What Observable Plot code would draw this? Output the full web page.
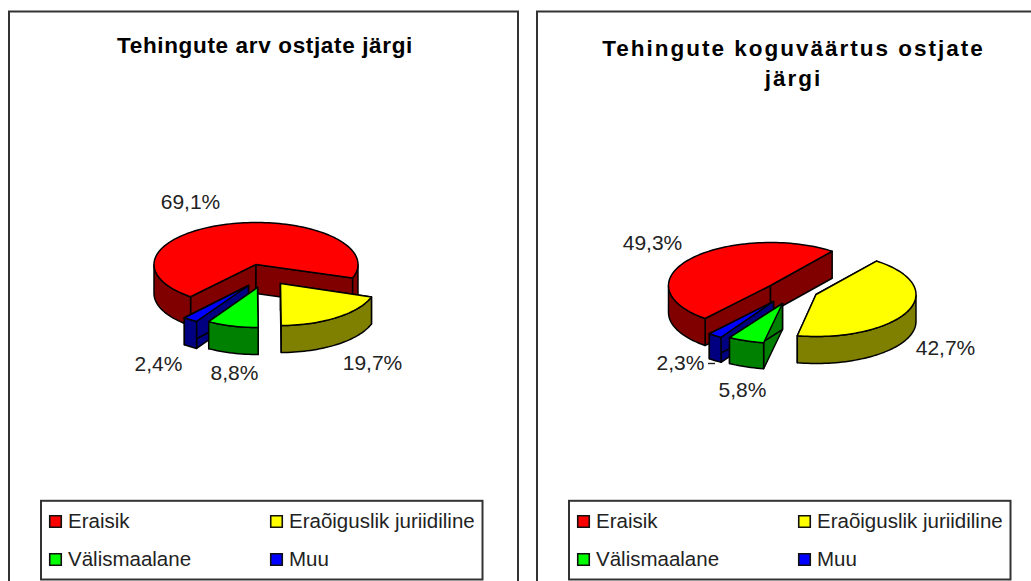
<!DOCTYPE html>
<html><head><meta charset="utf-8">
<script src="https://cdn.jsdelivr.net/npm/d3@7"></script>
<script src="https://cdn.jsdelivr.net/npm/@observablehq/plot@0.6"></script>
<style>html,body{margin:0;padding:0;background:#fff}svg{display:block}</style>
</head><body><div id="chart"></div>
<script>
const categories = ["Eraisik", "Eraõiguslik juriidiline", "Välismaalane", "Muu"];
const countValues = [69.1, 19.7, 8.8, 2.4];
const worthValues = [49.3, 42.7, 5.8, 2.3];
const countLabels = ["69,1%", "19,7%", "8,8%", "2,4%"];
const worthLabels = ["49,3%", "42,7%", "5,8%", "2,3%"];
const countTitle = ["Tehingute arv ostjate järgi"];
const worthTitle = ["Tehingute koguväärtus ostjate", "järgi"];

const topColors = ["#ff0000", "#ffff00", "#00ff00", "#0000ff"];
const sideColors = ["#800000", "#808000", "#008000", "#000080"];

const W = 1031, H = 581;
const panels = [
  {values: countValues, labels: countLabels, title: countTitle, frame: [9, 518], legendX: 41, titleX: 264.5,
   titleY: [45], titleSpacing: 0.65, start: 219.9, depth: [29, 27, 27, 27],
   apex: [[255.5, 264], [280, 283], [257, 287], [248, 285]], rx: [102, 96, 94, 100], ry: [42, 42, 40, 42],
   labelAt: [[190, 202], [372, 363], [234, 373], [158, 364]]},
  {values: worthValues, labels: worthLabels, title: worthTitle, frame: [537, 1060], legendX: 569, titleX: 793,
   titleY: [48, 78], titleSpacing: 2, start: 219.9, depth: [27, 27, 26, 25],
   apex: [[770, 285], [815.5, 294], [782, 303], [773, 301]], rx: [102, 100, 101, 100], ry: [43, 42, 40, 42],
   labelAt: [[652, 243], [945, 348], [742, 390], [680, 363]]}
];

const polys = [];
const rad = Math.PI / 180;
function addPoly(id, color, pts) {
  pts.forEach(([x, y]) => polys.push({id, color, x, y}));
  polys.push({id, color, x: pts[0][0], y: pts[0][1]});
}
panels.forEach((p, pi) => {
  const arcs = d3.pie().sort(null).startAngle(p.start * rad).endAngle(p.start * rad + 2 * Math.PI)(p.values);
  const drawOrder = [0, 3, 1, 2];
  drawOrder.forEach(i => {
    const [cx, cy] = p.apex[i], rx = p.rx[i], ry = p.ry[i], d = p.depth[i];
    const pt = a => [cx + rx * Math.sin(a), cy - ry * Math.cos(a)];
    const a0 = arcs[i].startAngle, a1 = arcs[i].endAngle;
    const n = Math.ceil((a1 - a0) / (2 * rad));
    const rim = d3.range(n + 1).map(k => pt(a0 + (a1 - a0) * k / n));
    const down = ([x, y]) => [x, y + d];
    const s = rim[0], e = rim[n];
    addPoly(`${pi}-${i}-cutA`, sideColors[i], [[cx, cy], s, down(s), [cx, cy + d]]);
    addPoly(`${pi}-${i}-cutB`, sideColors[i], [[cx, cy], e, down(e), [cx, cy + d]]);
    const norm = a => ((a % (2 * Math.PI)) + 2 * Math.PI) % (2 * Math.PI);
    let run = [];
    const runs = [];
    rim.forEach((q, k) => {
      const a = norm(a0 + (a1 - a0) * k / n);
      if (a >= 90 * rad && a <= 270 * rad) run.push(q);
      else { if (run.length) runs.push(run); run = []; }
    });
    if (run.length) runs.push(run);
    runs.forEach((r, j) => {
      if (r.length > 1) addPoly(`${pi}-${i}-wall${j}`, sideColors[i], [...r, ...r.slice().reverse().map(down)]);
    });
    addPoly(`${pi}-${i}-top`, topColors[i], [[cx, cy], ...rim]);
  });
});

const labelRows = panels.flatMap(p => p.labels.map((text, i) => ({text, x: p.labelAt[i][0], y: p.labelAt[i][1]})));
const titleRows = panels.flatMap(p => p.title.map((text, i) => ({text, spacing: p.titleSpacing, x: p.titleX, y: p.titleY[i]})));
const swatchOffsets = [[14, 0], [235, 0], [14, 1], [235, 1]];
const legendRows = panels.flatMap(p => categories.map((text, i) => ({
  text, color: topColors[i],
  x: p.legendX + swatchOffsets[i][0], y: 521 + swatchOffsets[i][1] * 38
})));
const legendBoxes = panels.map(p => ({x1: p.legendX, x2: p.legendX + 441.5, y1: 500.8, y2: 579.5}));
const frames = panels.map(p => ({x1: p.frame[0], x2: p.frame[1], y1: 11.5, y2: 600}));
const leader = [{x1: 708, x2: 715, y: 363}];

const plot = Plot.plot({
  width: W, height: H, margin: 0,
  x: {domain: [0, W], range: [0, W], axis: null},
  y: {domain: [0, H], range: [0, H], axis: null},
  color: {type: "identity"},
  style: {background: "#fff"},
  marks: [
    Plot.rect(frames, {x1: "x1", x2: "x2", y1: "y1", y2: "y2", fill: "#fff", stroke: "#333", strokeWidth: 2}),
    Plot.rect(legendBoxes, {x1: "x1", x2: "x2", y1: "y1", y2: "y2", fill: "#fff", stroke: "#333", strokeWidth: 2}),
    Plot.line(polys, {x: "x", y: "y", z: "id", fill: "color", stroke: "#000", strokeWidth: 1.5, strokeLinejoin: "round", curve: "linear"}),
    Plot.ruleY(leader, {x1: "x1", x2: "x2", y: "y", stroke: "#222", strokeWidth: 1.4}),
    Plot.text(titleRows, {x: "x", y: "y", text: "text", fontFamily: "Liberation Sans", fontWeight: "bold", fontSize: 22.5, fill: "#000"}),
    Plot.text(labelRows, {x: "x", y: "y", text: "text", fontFamily: "Liberation Sans", fontSize: 21, fill: "#222"}),
    Plot.dot(legendRows, {x: "x", y: "y", symbol: "square", r: 6.5, fill: "color", stroke: "#111", strokeWidth: 1.6}),
    Plot.text(legendRows, {x: d => d.x + 12.5, y: "y", text: "text", textAnchor: "start", fontFamily: "Liberation Sans", fontSize: 20.5, fill: "#222"})
  ]
});
// Plot has no letter-spacing option: the wide bitmap title face is approximated here.
const spacingByTitle = new Map(titleRows.map(t => [t.text, t.spacing]));
d3.select(plot).selectAll("text").filter(function () { return spacingByTitle.has(this.textContent); })
  .style("letter-spacing", function () { return spacingByTitle.get(this.textContent) + "px"; });
document.getElementById("chart").appendChild(plot);
</script></body></html>
